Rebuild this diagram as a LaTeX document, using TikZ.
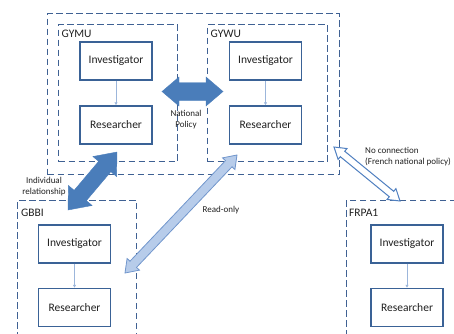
\documentclass[tikz,border=0pt]{standalone}
\usepackage{fontspec}
\setmainfont{Carlito}
\usetikzlibrary{calc,arrows.meta}
\definecolor{dashc}{HTML}{3F6193}
\definecolor{boxc}{HTML}{3A6296}
\definecolor{arrc}{HTML}{4A7DBA}
\definecolor{linkc}{HTML}{9CB6DB}
\definecolor{rofill}{HTML}{B7CCEA}
\definecolor{roline}{HTML}{7196CC}
\definecolor{ncline}{HTML}{4F7FC0}
\definecolor{txtc}{HTML}{202020}
\newcommand{\blockarrow}[6]{%
  \path[#6] (#1)
    -- ($(#1)!#3!(#2)!#4!90:(#2)$)
    -- ($(#1)!#3!(#2)!#5!90:(#2)$)
    -- ($(#2)!#3!(#1)!#5!-90:(#1)$)
    -- ($(#2)!#3!(#1)!#4!-90:(#1)$)
    -- (#2)
    -- ($(#2)!#3!(#1)!#4!90:(#1)$)
    -- ($(#2)!#3!(#1)!#5!90:(#1)$)
    -- ($(#1)!#3!(#2)!#5!-90:(#2)$)
    -- ($(#1)!#3!(#2)!#4!-90:(#2)$)
    -- cycle;}
\tikzset{
  group/.style={draw=dashc, line width=1.35pt, dash pattern=on 6.5pt off 3.5pt,
    rectangle, inner sep=0pt, anchor=north west},
  rolebox/.style={draw=boxc, line width=1.4pt, fill=white, rectangle,
    minimum width=72pt, minimum height=38pt, inner sep=0pt,
    font=\fontsize{11.5}{13}\selectfont, text=txtc},
  grouplabel/.style={anchor=west, inner sep=0pt,
    font=\fontsize{11.5}{13}\selectfont, text=txtc},
  smalllabel/.style={inner sep=0pt, font=\fontsize{9}{11}\selectfont, text=txtc},
  link/.style={draw=linkc, line width=0.8pt, -{Latex[length=3pt,width=3.5pt]}},
  solidarrow/.style={fill=arrc, draw=arrc, line width=0.4pt, line join=miter},
  roarrow/.style={fill=rofill, draw=roline, line width=0.8pt, line join=miter},
  ncarrow/.style={fill=white, draw=ncline, line width=1pt, line join=miter}
}
\begin{document}
\begin{tikzpicture}[x=1pt, y=-1pt]
\useasboundingbox (0,0) rectangle (454,333);
\clip (0,0) rectangle (454,333);
% groups
\node[group, minimum width=292pt, minimum height=161pt] (outer) at (47,13) {};
\node[group, minimum width=119pt, minimum height=137pt] (gymu) at (58,24) {};
\node[group, minimum width=120pt, minimum height=137pt] (gywu) at (207,24) {};
\node[group, minimum width=119pt, minimum height=160pt] (gbbi) at (17,199.5) {};
\node[group, minimum width=130pt, minimum height=160pt] (frpa) at (345.5,199.5) {};
% group labels
\node[grouplabel] (lgymu) at (61.5,34) {GYMU};
\node[grouplabel] (lgywu) at (210.5,34) {GYWU};
\node[grouplabel] (lgbbi) at (21,213) {GBBI};
\node[grouplabel] (lfrpa) at (349,213) {FRPA1};
% role boxes
\node[rolebox] (inv1) at (116,61) {Investigator};
\node[rolebox] (res1) at (116,125) {Researcher};
\node[rolebox] (inv2) at (265.5,61) {Investigator};
\node[rolebox] (res2) at (265.5,125) {Researcher};
\node[rolebox] (inv3) at (74.5,244) {Investigator};
\node[rolebox] (res3) at (74.5,307.5) {Researcher};
\node[rolebox] (inv4) at (407,244) {Investigator};
\node[rolebox] (res4) at (407,307.5) {Researcher};
\draw[link] (inv1) -- (res1);
\draw[link] (inv2) -- (res2);
\draw[link] (inv3) -- (res3);
\draw[link] (inv4) -- (res4);
% block arrows
\coordinate (npA) at (162,91.5);
\coordinate (npB) at (223,91.5);
\blockarrow{npA}{npB}{17pt}{14.5pt}{9pt}{solidarrow}
\coordinate (irA) at (117,152);
\coordinate (irB) at (68,210);
\blockarrow{irA}{irB}{19pt}{15.5pt}{8pt}{solidarrow}
\coordinate (roA) at (237,155);
\coordinate (roB) at (125,273);
\blockarrow{roA}{roB}{12pt}{8.5pt}{4.5pt}{roarrow}
\coordinate (ncA) at (334,147);
\coordinate (ncB) at (400,201);
\blockarrow{ncA}{ncB}{11pt}{7pt}{3.5pt}{ncarrow}
% labels
\node[smalllabel, align=center] (lnp) at (186,119.5) {National\\Policy};
\node[smalllabel, align=center] (lir) at (44,187) {Individual\\relationship};
\node[smalllabel, align=left, anchor=west] (lnc) at (365,157) {No connection\\(French national policy)};
\node[smalllabel] (lro) at (221,210) {Read-only};
\end{tikzpicture}
\end{document}
